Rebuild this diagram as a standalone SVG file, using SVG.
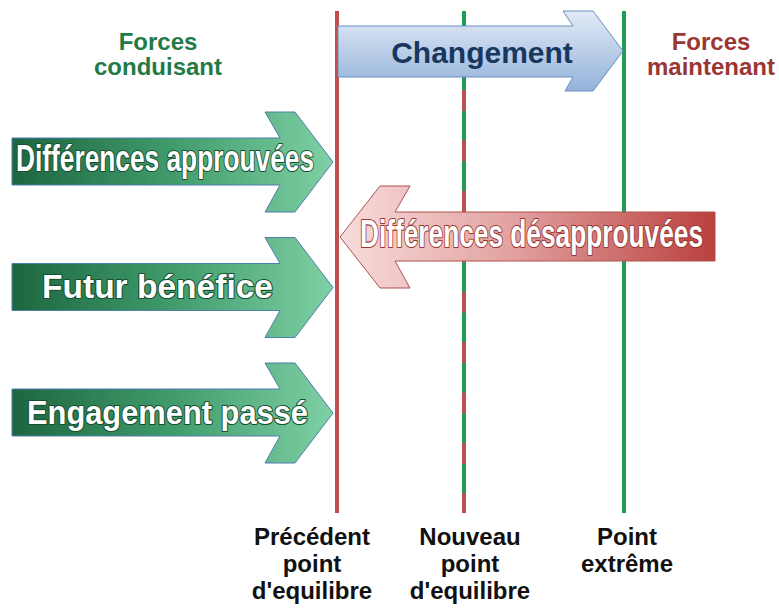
<svg xmlns="http://www.w3.org/2000/svg" xmlns:xlink="http://www.w3.org/1999/xlink" width="779" height="608" viewBox="0 0 779 608">
<style>
.hdr{font-family:"Liberation Sans",Arial,sans-serif;font-weight:bold;font-size:24px;text-anchor:middle}
.lbl{font-family:"Liberation Sans",Arial,sans-serif;font-weight:bold;font-size:24px;text-anchor:middle;fill:#111}
.gtxt{font-family:"Liberation Sans",Arial,sans-serif;font-weight:bold;fill:#fff;stroke:#174f31;stroke-width:2.2;paint-order:stroke;stroke-linejoin:round}
.rtxt{font-family:"Liberation Sans",Arial,sans-serif;font-weight:bold;fill:#fff;stroke:#9a3533;stroke-width:2.2;paint-order:stroke;stroke-linejoin:round}
.garrow{fill:url(#gGrad);stroke:#4d7fae;stroke-width:1}
</style>
<defs>
<linearGradient id="gGrad" gradientUnits="userSpaceOnUse" x1="12" y1="0" x2="333" y2="0">
<stop offset="0" stop-color="#1d6640"/>
<stop offset="0.5" stop-color="#409b6b"/>
<stop offset="1" stop-color="#7fd0a5"/>
</linearGradient>
<linearGradient id="rGrad" gradientUnits="userSpaceOnUse" x1="340" y1="0" x2="715" y2="0">
<stop offset="0" stop-color="#f7dcdb"/>
<stop offset="0.45" stop-color="#e2a3a1"/>
<stop offset="1" stop-color="#b9403e"/>
</linearGradient>
<linearGradient id="bGrad" gradientUnits="userSpaceOnUse" x1="0" y1="11" x2="0" y2="91">
<stop offset="0" stop-color="#e2ebf6"/>
<stop offset="1" stop-color="#93b2da"/>
</linearGradient>
<path id="gshape" d="M12,138 L280,138 L265,112 L295,112 L333,162 L295,212 L265,212 L280,185 L12,185 Z"/>
</defs>
<rect width="779" height="608" fill="#fff"/>

<g id="lines">
<line x1="337" y1="11" x2="337" y2="513" stroke="#c0504d" stroke-width="4"/>
<line x1="464" y1="11" x2="464" y2="513" stroke="#1f9d55" stroke-width="4"/>
<line x1="464" y1="39.6" x2="464" y2="513" stroke="#c0504d" stroke-width="4" stroke-dasharray="21 29.4"/>
<line x1="624" y1="11" x2="624" y2="513" stroke="#1f9d55" stroke-width="4"/>
</g>

<g id="header-left">
<text class="hdr" x="158" y="50" fill="#237a45">Forces</text>
<text class="hdr" x="158" y="75" fill="#237a45">conduisant</text>
</g>
<g id="header-right">
<text class="hdr" x="711" y="50" fill="#9a3634">Forces</text>
<text class="hdr" x="711" y="75" fill="#9a3634">maintenant</text>
</g>

<g id="changement">
<path d="M338,26 L573,26 L563,11 L593,11 L623,51 L593,91 L565,91 L573,77 L338,77 Z" fill="url(#bGrad)" stroke="#6a8fc0" stroke-width="1"/>
<text x="482" y="63" text-anchor="middle" font-family="'Liberation Sans',Arial,sans-serif" font-weight="bold" font-size="30" fill="#17375e">Changement</text>
</g>

<g id="diff-approuvees">
<use xlink:href="#gshape" class="garrow"/>
<text class="gtxt" x="16" y="171" font-size="36" textLength="298" lengthAdjust="spacingAndGlyphs">Différences approuvées</text>
</g>

<g id="futur-benefice">
<use xlink:href="#gshape" class="garrow" transform="translate(0,125.5)"/>
<text class="gtxt" x="42" y="298" font-size="34" textLength="231" lengthAdjust="spacingAndGlyphs">Futur bénéfice</text>
</g>

<g id="engagement-passe">
<use xlink:href="#gshape" class="garrow" transform="translate(0,251)"/>
<text class="gtxt" x="27" y="424" font-size="34" textLength="281" lengthAdjust="spacingAndGlyphs">Engagement passé</text>
</g>

<g id="diff-desapprouvees">
<path d="M715,212 L395,212 L410,186 L380,186 L340,237 L380,288 L410,288 L395,261 L715,261 Z" fill="url(#rGrad)" stroke="#b0504e" stroke-width="1"/>
<text class="rtxt" x="360" y="247" font-size="38" textLength="343" lengthAdjust="spacingAndGlyphs">Différences désapprouvées</text>
</g>

<g id="label-precedent">
<text class="lbl" x="312" y="545">Précédent</text>
<text class="lbl" x="312" y="572">point</text>
<text class="lbl" x="312" y="599">d'equilibre</text>
</g>
<g id="label-nouveau">
<text class="lbl" x="470" y="545">Nouveau</text>
<text class="lbl" x="470" y="572">point</text>
<text class="lbl" x="470" y="599">d'equilibre</text>
</g>
<g id="label-extreme">
<text class="lbl" x="627" y="545">Point</text>
<text class="lbl" x="627" y="572">extrême</text>
</g>
</svg>
